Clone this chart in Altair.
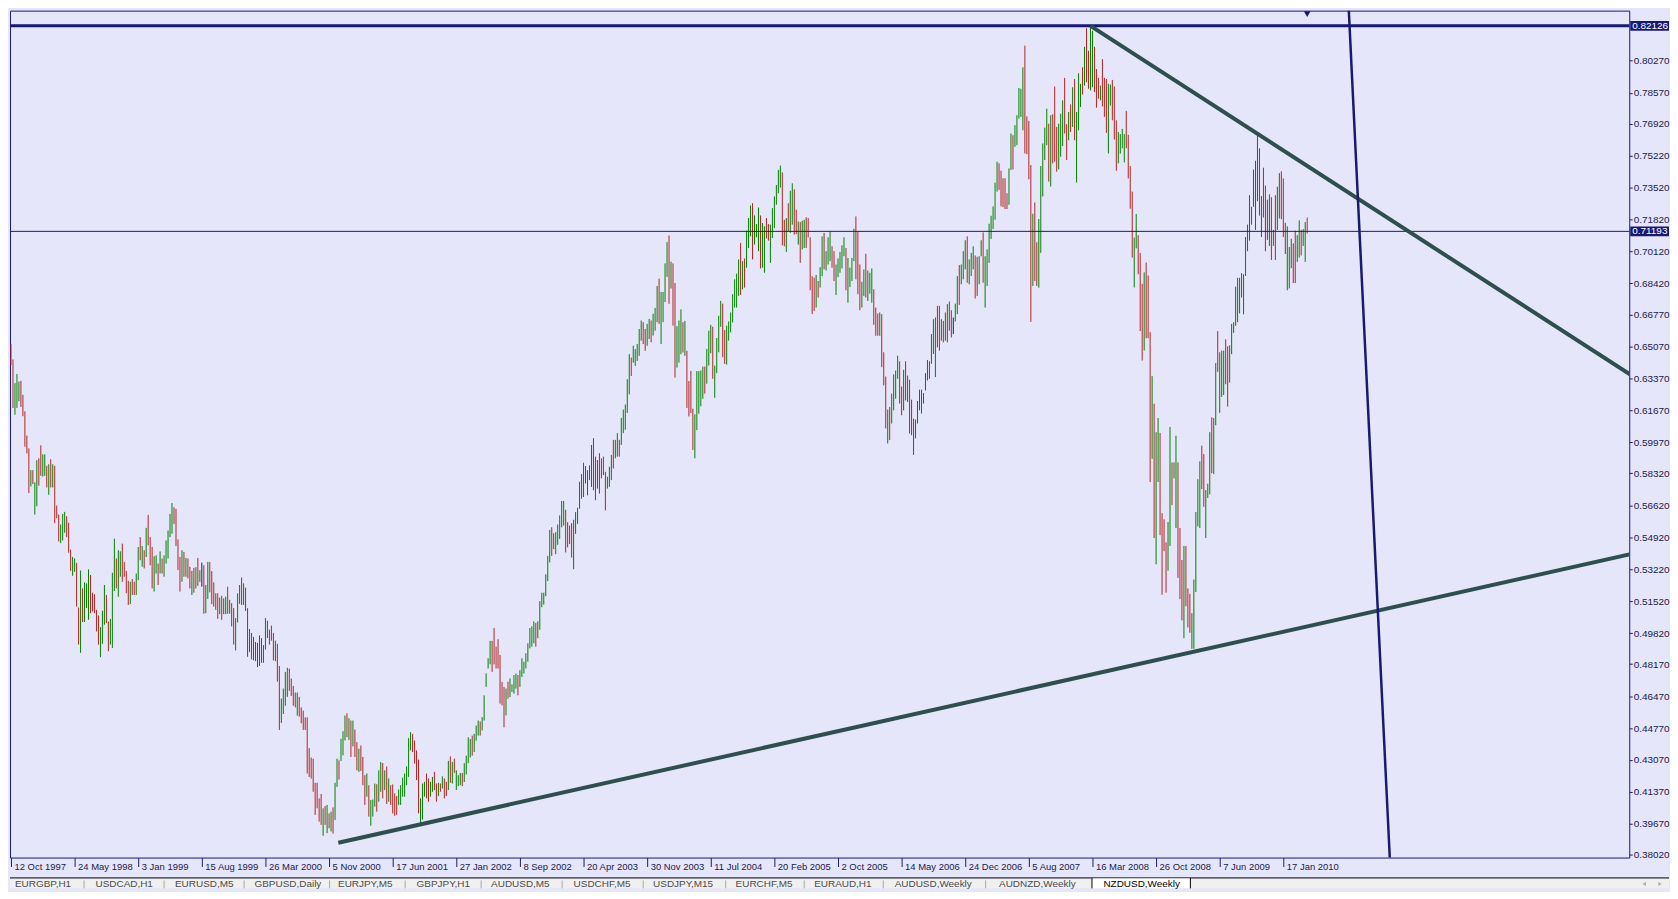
import altair as alt
import pandas as pd

# ------------------------------------------------------------------ data
DATE_LABELS = ["12 Oct 1997", "24 May 1998", "3 Jan 1999", "15 Aug 1999", "26 Mar 2000",
               "5 Nov 2000", "17 Jun 2001", "27 Jan 2002", "8 Sep 2002", "20 Apr 2003",
               "30 Nov 2003", "11 Jul 2004", "20 Feb 2005", "2 Oct 2005", "14 May 2006",
               "24 Dec 2006", "5 Aug 2007", "16 Mar 2008", "26 Oct 2008", "7 Jun 2009",
               "17 Jan 2010"]
DATE_BARS = [0, 32, 64, 96, 128, 160, 192, 224, 256, 288, 320, 352, 384, 416, 448,
             480, 512, 544, 576, 608, 640]

PRICE_TICKS = [0.80270, 0.78570, 0.76920, 0.75220, 0.73520, 0.71820, 0.70120, 0.68420,
               0.66770, 0.65070, 0.63370, 0.61670, 0.59970, 0.58320, 0.56620, 0.54920,
               0.53220, 0.51520, 0.49820, 0.48170, 0.46470, 0.44770, 0.43070, 0.41370,
               0.39670, 0.38020]

HIGH_LEVEL = 0.82126
BID_LEVEL = 0.71193

# weekly NZDUSD bars, 12 Oct 1997 onwards (bar index = week number)
HIGH = [
    .6519, .6438, .6312, .6361, .6320, .6324, .6250, .6162, .6033, .5965,  # 0
    .5849, .5849, .5784, .5902, .5912, .5981, .5933, .5933, .5872, .5880,  # 10
    .5907, .5880, .5872, .5660, .5613, .5560, .5616, .5627, .5604, .5569,  # 20
    .5426, .5387, .5379, .5356, .5118, .5315, .5220, .5252, .5247, .5321,  # 30
    .5291, .5197, .5189, .5106, .5076, .5014, .5101, .5238, .5185, .5044,  # 40
    .5057, .5303, .5484, .5379, .5423, .5417, .5458, .5361, .5313, .5261,  # 50
    .5255, .5270, .5255, .5299, .5440, .5493, .5445, .5423, .5542, .5611,  # 60
    .5493, .5440, .5391, .5396, .5352, .5417, .5379, .5396, .5475, .5528,  # 70
    .5616, .5674, .5651, .5643, .5481, .5387, .5423, .5414, .5382, .5379,  # 80
    .5335, .5313, .5329, .5333, .5382, .5317, .5357, .5343, .5238, .5361,  # 90
    .5361, .5312, .5252, .5194, .5194, .5171, .5181, .5167, .5176, .5229,  # 100
    .5159, .5141, .5115, .5062, .5194, .5238, .5278, .5247, .5224, .5115,  # 110
    .5004, .4983, .4962, .4935, .4930, .4970, .4956, .4918, .5062, .5048,  # 120
    .5000, .5022, .4983, .4942, .4925, .4807, .4634, .4687, .4775, .4798,  # 130
    .4793, .4740, .4701, .4666, .4666, .4643, .4587, .4570, .4534, .4534,  # 140
    .4370, .4320, .4314, .4186, .4186, .4103, .4126, .4050, .4062, .4068,  # 150
    .4023, .4032, .4055, .4186, .4314, .4305, .4420, .4460, .4543, .4555,  # 160
    .4529, .4517, .4517, .4469, .4402, .4367, .4384, .4323, .4226, .4235,  # 170
    .4173, .4094, .4097, .4182, .4178, .4252, .4296, .4291, .4252, .4273,  # 180
    .4209, .4173, .4177, .4129, .4115, .4150, .4173, .4213, .4235, .4273,  # 190
    .4423, .4455, .4446, .4411, .4358, .4309, .4103, .4182, .4191, .4235,  # 200
    .4209, .4191, .4217, .4244, .4182, .4186, .4182, .4220, .4209, .4191,  # 210
    .4302, .4326, .4296, .4314, .4252, .4226, .4238, .4238, .4290, .4330,  # 220
    .4428, .4419, .4437, .4446, .4490, .4517, .4512, .4535, .4651, .4768,  # 230
    .4848, .4941, .4941, .5009, .4910, .4950, .4866, .4723, .4696, .4687,  # 240
    .4723, .4741, .4709, .4759, .4767, .4759, .4785, .4848, .4830, .4875,  # 250
    .4928, .5009, .5018, .5045, .5036, .5045, .5152, .5197, .5197, .5295,  # 260
    .5393, .5531, .5545, .5513, .5519, .5560, .5608, .5685, .5685, .5638,  # 270
    .5572, .5554, .5567, .5585, .5626, .5649, .5787, .5828, .5889, .5871,  # 280
    .5849, .5874, .5983, .6019, .5921, .5903, .5939, .5912, .5921, .5840,  # 290
    .5814, .5867, .5930, .6010, .6010, .6046, .6010, .6127, .6171, .6198,  # 300
    .6332, .6466, .6448, .6511, .6493, .6520, .6600, .6645, .6636, .6600,  # 310
    .6627, .6654, .6645, .6681, .6712, .6829, .6868, .6797, .6797, .6949,  # 320
    .7062, .7097, .6958, .6949, .6845, .6615, .6645, .6704, .6636, .6643,  # 330
    .6484, .6323, .6377, .6176, .6146, .6376, .6376, .6379, .6400, .6400,  # 340
    .6494, .6591, .6622, .6612, .6405, .6552, .6670, .6749, .6735, .6594,  # 350
    .6617, .6640, .6688, .6785, .6864, .6894, .6970, .7058, .6961, .6975,  # 360
    .7123, .7190, .7257, .7269, .7204, .7158, .7246, .7204, .7164, .7146,  # 370
    .7190, .7158, .7155, .7243, .7305, .7366, .7446, .7469, .7433, .7181,  # 380
    .7190, .7269, .7335, .7375, .7343, .7234, .7172, .7169, .7176, .7181,  # 390
    .7194, .7190, .7088, .6881, .6873, .6887, .6855, .6929, .7093, .7111,  # 400
    .7014, .7088, .7119, .7040, .7014, .6943, .6975, .7010, .7045, .7088,  # 410
    .7031, .6978, .6926, .6978, .7134, .7199, .7120, .6943, .6851, .6917,  # 420
    .7000, .6911, .6899, .6922, .6811, .6714, .6682, .6688, .6679, .6476,  # 430
    .6347, .6171, .6185, .6256, .6358, .6379, .6458, .6428, .6294, .6383,  # 440
    .6428, .6352, .6330, .6224, .6123, .6118, .6217, .6277, .6277, .6259,  # 450
    .6365, .6435, .6428, .6573, .6652, .6661, .6723, .6723, .6652, .6643,  # 460
    .6688, .6732, .6746, .6700, .6661, .6735, .6881, .6940, .6943, .7014,  # 470
    .7072, .7093, .6970, .7005, .7040, .6991, .6984, .6987, .7072, .7114,  # 480
    .6987, .7023, .7160, .7202, .7252, .7379, .7490, .7481, .7442, .7402,  # 490
    .7402, .7322, .7454, .7640, .7631, .7684, .7737, .7882, .7878, .7992,  # 500
    .8107, .7731, .7707, .7472, .7213, .7273, .7061, .7185, .7467, .7587,  # 510
    .7671, .7772, .7692, .7737, .7742, .7890, .7675, .7692, .7745, .7816,  # 520
    .7936, .7689, .7754, .7795, .7886, .7930, .7754, .7960, .7904, .7992,  # 530
    .8101, .8200, .8080, .8213, .8186, .8101, .7983, .7936, .7895, .8036,  # 540
    .7936, .7930, .7904, .7900, .7925, .7890, .7710, .7648, .7637, .7665,  # 550
    .7637, .7760, .7633, .7467, .7331, .7086, .7212, .7099, .7004, .6840,  # 560
    .6901, .6953, .6885, .6583, .6349, .6202, .6051, .6126, .6047, .5620,  # 570
    .5588, .5465, .5573, .6079, .5890, .5890, .6032, .5890, .5541, .5371,  # 580
    .5446, .5446, .5220, .5191, .5088, .5267, .5626, .5801, .5896, .5979,  # 590
    .5934, .5743, .5777, .6051, .6130, .6126, .6419, .6589, .6476, .6485,  # 600
    .6485, .6545, .6508, .6513, .6627, .6636, .6825, .6872, .6872, .6897,  # 610
    .6891, .7089, .7155, .7312, .7250, .7448, .7495, .7633, .7561, .7307,  # 620
    .7458, .7363, .7288, .7316, .7301, .7127, .7312, .7357, .7429, .7439,  # 630
    .7401, .7165, .7146, .7036, .7080, .7055, .7123, .7099, .7178, .7127,  # 640
    .7131, .7169, .7193,                                                   # 650
]

LOW = [
    .6408, .6180, .6144, .6180, .6215, .6185, .6136, .5974, .5938, .5727,  # 0
    .5762, .5775, .5613, .5657, .5766, .5819, .5815, .5819, .5757, .5718,  # 10
    .5757, .5757, .5567, .5593, .5470, .5461, .5475, .5516, .5493, .5410,  # 20
    .5313, .5287, .5308, .5123, .4921, .4877, .5041, .5041, .5115, .5053,  # 30
    .5088, .5097, .5088, .4991, .4921, .4854, .4925, .5027, .5035, .4886,  # 40
    .4921, .4903, .5206, .5220, .5176, .5282, .5255, .5282, .5194, .5132,  # 50
    .5136, .5185, .5185, .5185, .5264, .5370, .5335, .5326, .5387, .5449,  # 60
    .5343, .5220, .5203, .5299, .5238, .5299, .5299, .5282, .5352, .5379,  # 70
    .5493, .5511, .5563, .5445, .5317, .5203, .5255, .5282, .5282, .5273,  # 80
    .5220, .5185, .5197, .5220, .5234, .5255, .5229, .5085, .5088, .5164,  # 90
    .5199, .5136, .5123, .5106, .5058, .5083, .5053, .5083, .5083, .5085,  # 100
    .5085, .5018, .4921, .4890, .5039, .5138, .5132, .5132, .5100, .4856,  # 110
    .4881, .4842, .4837, .4833, .4801, .4807, .4824, .4824, .4895, .4956,  # 120
    .4921, .4942, .4837, .4833, .4724, .4467, .4504, .4552, .4596, .4643,  # 130
    .4675, .4648, .4596, .4587, .4543, .4538, .4502, .4467, .4467, .4235,  # 140
    .4217, .4208, .4138, .4015, .4050, .3979, .3962, .3904, .3962, .3918,  # 150
    .3944, .3927, .3915, .3988, .4164, .4203, .4302, .4332, .4411, .4429,  # 160
    .4414, .4323, .4379, .4323, .4252, .4244, .4249, .4173, .4068, .4112,  # 170
    .4006, .3957, .4006, .4059, .4032, .4085, .4138, .4103, .4147, .4073,  # 180
    .4085, .4068, .4023, .4010, .4015, .4068, .4068, .4112, .4112, .4173,  # 190
    .4217, .4358, .4349, .4288, .4200, .4023, .3971, .3990, .4112, .4103,  # 200
    .4085, .4112, .4138, .4147, .4085, .4115, .4138, .4155, .4103, .4115,  # 210
    .4147, .4186, .4182, .4238, .4147, .4168, .4173, .4168, .4190, .4230,  # 220
    .4290, .4320, .4330, .4350, .4410, .4437, .4437, .4464, .4517, .4696,  # 230
    .4794, .4816, .4776, .4816, .4794, .4794, .4607, .4598, .4481, .4544,  # 240
    .4633, .4642, .4669, .4660, .4687, .4651, .4696, .4749, .4767, .4794,  # 250
    .4830, .4901, .4910, .4928, .4910, .4955, .5000, .5120, .5134, .5179,  # 260
    .5259, .5358, .5393, .5429, .5402, .5452, .5483, .5545, .5554, .5411,  # 270
    .5438, .5456, .5384, .5322, .5510, .5563, .5644, .5697, .5706, .5778,  # 280
    .5715, .5796, .5760, .5742, .5689, .5751, .5724, .5805, .5823, .5635,  # 290
    .5751, .5760, .5796, .5858, .5912, .5921, .5921, .5983, .6046, .6064,  # 300
    .6153, .6252, .6350, .6421, .6404, .6430, .6457, .6538, .6520, .6484,  # 310
    .6511, .6547, .6529, .6565, .6591, .6636, .6627, .6520, .6636, .6743,  # 320
    .6877, .6734, .6815, .6618, .6341, .6395, .6421, .6466, .6475, .6457,  # 330
    .6180, .6135, .6153, .5956, .5912, .6062, .6150, .6189, .6229, .6256,  # 340
    .6309, .6405, .6471, .6335, .6234, .6365, .6476, .6612, .6450, .6414,  # 350
    .6411, .6538, .6582, .6635, .6714, .6714, .6776, .6781, .6811, .6820,  # 360
    .6926, .7031, .7093, .6970, .7049, .7088, .7014, .6922, .6926, .6899,  # 370
    .7081, .7070, .6952, .7084, .7137, .7261, .7322, .7352, .7045, .7040,  # 380
    .7010, .7119, .7111, .7155, .7102, .7105, .7049, .6952, .7023, .7031,  # 390
    .7031, .7088, .6806, .6679, .6696, .6714, .6767, .6820, .6881, .6917,  # 400
    .6911, .6943, .6961, .6926, .6855, .6781, .6876, .6899, .6922, .6987,  # 410
    .6806, .6740, .6823, .6855, .6961, .6864, .6785, .6700, .6714, .6776,  # 420
    .6767, .6749, .6788, .6740, .6622, .6564, .6564, .6564, .6397, .6300,  # 430
    .6071, .5991, .6009, .6097, .6167, .6229, .6335, .6203, .6141, .6167,  # 440
    .6220, .6212, .6044, .6035, .5930, .6018, .6097, .6167, .6150, .6203,  # 450
    .6273, .6326, .6335, .6414, .6467, .6344, .6502, .6485, .6538, .6529,  # 460
    .6538, .6529, .6591, .6555, .6573, .6640, .6679, .6728, .6838, .6864,  # 470
    .6917, .6846, .6838, .6882, .6917, .6762, .6776, .6838, .6987, .6846,  # 480
    .6714, .6829, .6952, .7079, .7132, .7181, .7331, .7340, .7252, .7248,  # 490
    .7238, .7238, .7261, .7446, .7449, .7569, .7578, .7719, .7728, .7657,  # 500
    .7534, .7530, .7396, .6638, .6829, .6855, .6829, .6820, .7005, .7305,  # 510
    .7499, .7578, .7384, .7358, .7481, .7490, .7437, .7449, .7516, .7573,  # 520
    .7640, .7499, .7604, .7648, .7675, .7604, .7379, .7657, .7781, .7847,  # 530
    .7895, .7913, .7878, .7869, .7886, .7860, .7777, .7825, .7816, .7784,  # 540
    .7728, .7643, .7534, .7789, .7710, .7608, .7442, .7481, .7533, .7561,  # 550
    .7486, .7561, .7401, .7240, .6980, .6821, .7029, .6891, .6589, .6432,  # 560
    .6485, .6551, .6551, .5786, .5909, .5488, .5348, .5786, .5503, .5186,  # 570
    .5418, .5197, .5314, .5446, .5663, .5805, .5541, .5276, .5163, .5050,  # 580
    .4955, .5125, .5012, .4984, .4899, .4899, .5201, .5550, .5541, .5748,  # 590
    .5654, .5488, .5701, .5720, .5833, .5828, .6088, .6372, .6154, .6239,  # 600
    .6249, .6306, .6187, .6315, .6466, .6579, .6617, .6636, .6683, .6768,  # 610
    .6678, .6882, .7014, .7070, .7155, .7250, .7127, .7280, .7203, .7089,  # 620
    .7193, .7014, .7074, .7042, .6967, .7042, .6967, .7127, .7188, .7184,  # 630
    .7089, .6999, .6806, .6816, .6923, .6844, .6844, .6957, .6980, .6991,  # 640
    .7042, .6957, .7108,                                                   # 650
]

# u = up bar, d = down bar, n = unchanged
DIRECTION = "".join([
    "dduuuddddd", "uduudduudu", "duddduuudd", "duudduduuu", "ddddduuudd",
    "uuuduudddd", "udduududud", "dduududuuu", "uuddddudud", "dududunduu",
    "ddddduduud", "udd",
    "uuududdudu", "duduuuuddd", "udduuuuddd", "dudddddddd", "ddddududud",
    "uuduuududu", "dduddduduu", "uduudududd", "dduuuuuuud", "ddduuudduu",
    "ddududdudu", "duuud",
    "uuuuduuudu", "uuuudddddd", "duduuuuduu", "uuuuuuduuu", "uuuuduuuuu",
    "udddduuuuu", "duduuddddd", "dduuuduudu", "uuuuduuuuu", "dduuduuudu",
    "uuududduuu", "duddd",
    "duuuuuduuu", "duuuudduuu", "uuuududuuu", "duuuduuddu", "uuuuuddudu",
    "udduduuddd", "dduduuduuu", "dduuuuuduu", "uuddduuduu", "udddudddud",
    "uuuuddudud", "duuuuduuud", "uuuddududu", "dnuud",
    "uuuduuuddu", "uduuuuuuud", "dddduuduuu", "uudddduddu", "uuuududddu",
    "uuddududuu", "ududduuddd", "uddduudddu",
    "uuudddduud", "dduddduduu", "dddduuduud", "dduddduuuu", "udduuuduud",
    "uuudduuuuu", "uduuuuduuu", "dudddududu", "uddduuuddu", "uduud",
])

# trend lines (bar index, price)
TREND_DOWN_I = [543, 820]
TREND_DOWN_P = [0.82126, 0.63199]
TREND_UP_I = [164.65, 820]
TREND_UP_P = [0.3867, 0.54146]
STEEP_LINE_I = [672.0, 694.4]
STEEP_LINE_P = [0.8500, 0.3600]
LAST_BAR = 652

TABS = ["EURGBP,H1", "USDCAD,H1", "EURUSD,M5", "GBPUSD,Daily", "EURJPY,M5", "GBPJPY,H1",
        "AUDUSD,M5", "USDCHF,M5", "USDJPY,M15", "EURCHF,M5", "EURAUD,H1",
        "AUDUSD,Weekly", "AUDNZD,Weekly", "NZDUSD,Weekly"]
ACTIVE_TAB = "NZDUSD,Weekly"

# ------------------------------------------------------------------ layout / style
W, H = 1629, 852
X_DOMAIN = [-0.5, 814.0]
Y_DOMAIN = [0.37881, 0.82935]
FONT = "Liberation Sans"
BG = "#E6E6FA"
NAVY = "#191970"
TREND = "#2F4F4F"
LABEL = "#20204A"
TAB_X = [13, 94, 174, 254, 338, 417, 492, 575, 655, 738, 817, 898, 1003, 1108]
SEP_X = [82.5, 163, 243.5, 329.5, 405.5, 482, 563.5, 645, 728, 807, 886.5, 989.5]
ORIGIN = 8  # page margin

n = min(len(HIGH), len(LOW), len(DIRECTION))
bars = pd.DataFrame({"i": list(range(n)), "high": HIGH[:n], "low": LOW[:n],
                     "dir": list(DIRECTION[:n])})

XS = alt.Scale(domain=X_DOMAIN, nice=False, zero=False)
YS = alt.Scale(domain=Y_DOMAIN, nice=False, zero=False)

label_expr = "[" + ",".join("'%s'" % d for d in DATE_LABELS) + "][round(datum.value/32)]"

x_axis = alt.Axis(orient="bottom", values=DATE_BARS, labelExpr=label_expr, tickSize=9,
                  tickColor=NAVY, tickWidth=1, labelAlign="left", labelBaseline="middle",
                  labelPadding=0, labelOffset=3, labelFont=FONT, labelFontSize=9.5,
                  labelColor=LABEL, domain=False, grid=False, title=None,
                  labelOverlap=False, labelFlush=False)
y_axis = alt.Axis(orient="right", values=PRICE_TICKS, format=".5f", tickSize=3,
                  tickColor=NAVY, tickWidth=1, labelPadding=1, labelFont=FONT,
                  labelFontSize=10, labelColor=LABEL, domain=False, grid=False,
                  title=None, labelOverlap=False, labelFlush=False)


def X(field):
    return alt.X(field, scale=XS, axis=x_axis)


def Y(field):
    return alt.Y(field, scale=YS, axis=y_axis)


bar_layer = alt.Chart(bars).mark_rule(strokeWidth=1).encode(
    x=X("i:Q"),
    y=Y("low:Q"),
    y2="high:Q",
    color=alt.Color("dir:N", scale=alt.Scale(domain=["u", "d", "n"],
                                             range=["#008000", "#B22222", NAVY]),
                    legend=None),
)

levels = pd.DataFrame({"p": [HIGH_LEVEL, BID_LEVEL],
                       "t": ["%.5f" % HIGH_LEVEL, "%.5f" % BID_LEVEL]})

top_line = alt.Chart(levels.iloc[[0]]).mark_rule(color=NAVY, strokeWidth=3).encode(
    y=Y("p:Q"))
bid_line = alt.Chart(levels.iloc[[1]]).mark_rule(color=NAVY, strokeWidth=1).encode(
    y=Y("p:Q"))


def seg(ii, pp, color, width):
    d = pd.DataFrame({"i": ii, "p": pp})
    return alt.Chart(d).mark_line(color=color, strokeWidth=width, clip=True).encode(
        x=X("i:Q"), y=Y("p:Q"))


down_line = seg(TREND_DOWN_I, TREND_DOWN_P, TREND, 4)
up_line = seg(TREND_UP_I, TREND_UP_P, TREND, 4)
steep_line = seg(STEEP_LINE_I, STEEP_LINE_P, NAVY, 2.5)

tag_box = alt.Chart(levels).mark_rect(color=NAVY, yOffset=-5, y2Offset=5).encode(
    x=alt.value(W + 1), x2=alt.value(W + 40), y=Y("p:Q"), y2="p:Q")
tag_text = alt.Chart(levels).mark_text(color="white", align="left", baseline="middle",
                                       font=FONT, fontSize=10).encode(
    x=alt.value(W + 3), y=Y("p:Q"), text="t:N")

shift_mark = alt.Chart(pd.DataFrame({"i": [LAST_BAR]})).mark_point(
    shape="triangle-down", filled=True, color=NAVY, size=45, opacity=1).encode(
    x=X("i:Q"), y=alt.value(3.5))

one = pd.DataFrame({"a": [0]})
tab_layers = [
    alt.Chart(one).mark_rect(color="#F0F0F0").encode(
        x=alt.value(0), x2=alt.value(1669), y=alt.value(873), y2=alt.value(883)),
    alt.Chart(one).mark_rule(color="#000000", strokeWidth=1).encode(
        x=alt.value(0), x2=alt.value(1669), y=alt.value(872.5)),
]
ai = TABS.index(ACTIVE_TAB)
ax0 = TAB_X[ai] - 12 - ORIGIN
ax1 = TAB_X[ai] + 87 - ORIGIN
tab_layers.append(alt.Chart(one).mark_rect(color="white").encode(
    x=alt.value(ax0), x2=alt.value(ax1), y=alt.value(873), y2=alt.value(883)))
for xx in (ax0, ax1):
    tab_layers.append(alt.Chart(one).mark_rule(color="#000000", strokeWidth=1).encode(
        x=alt.value(xx + 0.5), y=alt.value(872.5), y2=alt.value(883)))
for sx in SEP_X:
    tab_layers.append(alt.Chart(one).mark_rule(color="#A8A8A8", strokeWidth=1).encode(
        x=alt.value(sx - ORIGIN), y=alt.value(875), y2=alt.value(883)))
for name, tx in zip(TABS, TAB_X):
    tab_layers.append(alt.Chart(one).mark_text(
        text=name, align="left", baseline="middle", font=FONT, fontSize=10,
        color="#000000" if name == ACTIVE_TAB else "#4A4A4A").encode(
        x=alt.value(tx - ORIGIN), y=alt.value(878.5)))
for sh, xx in (("triangle-left", 1644), ("triangle-right", 1660)):
    tab_layers.append(alt.Chart(one).mark_point(
        shape=sh, filled=True, color="#B0B0B0", size=18, opacity=1).encode(
        x=alt.value(xx), y=alt.value(878.5)))

chart = alt.layer(
    bar_layer, top_line, bid_line, down_line, up_line, steep_line,
    tag_box, tag_text, shift_mark, *tab_layers
).properties(
    width=W, height=H, padding=0, background=BG
).configure_view(
    stroke=NAVY, strokeWidth=1, fill=BG
)

chart.save("out.html", embed_options={"renderer": "svg", "actions": False})
